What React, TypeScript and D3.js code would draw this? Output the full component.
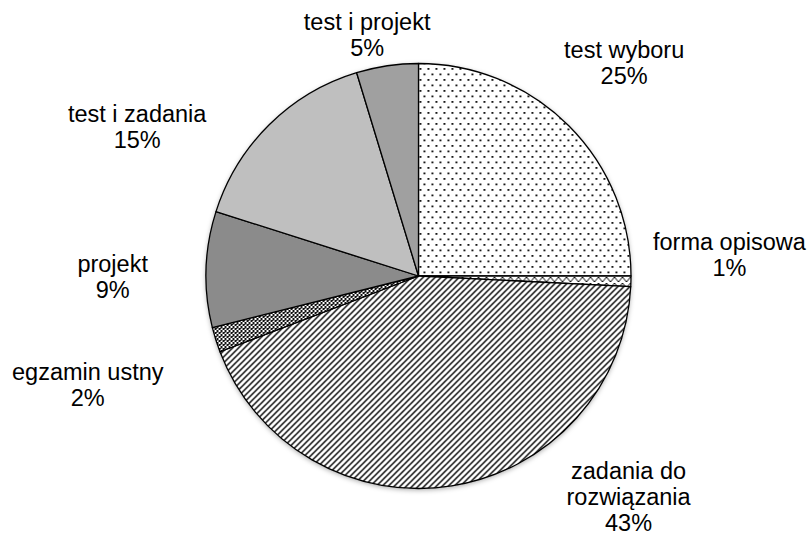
import React from "react";
import * as d3 from "d3";

// slice data, clockwise from 12 o'clock
const categories = [
    "test wyboru",
    "forma opisowa",
    "zadania do\nrozwiązania",
    "egzamin ustny",
    "projekt",
    "test i zadania",
    "test i projekt",
];
const values = [25.0, 0.8, 43.4, 1.9, 8.8, 15.4, 4.7];
const fills = ["url(#dots)", "url(#zigzag)", "url(#diag)", "url(#checker)", "#8b8b8b", "#bfbfbf", "#a0a0a0"];
// manual label nudges (like dragged labels in the original)
const labelNudge = [[2, -10], [23, -28], [165, -64], [-56, 22], [-18, 10], [-79, 56], [-9, 44]];

const W = 808;
const H = 535;
const cx = 418.5;
const cy = 276;
const r = 212.5;
const fontSize = 23.5;
const lineH = 26;

const App = () => {
    const total = d3.sum(values);
    const pie = d3.pie<number>().sort(null).value(d => d);
    const arcs = pie(values);
    const arc = d3.arc<d3.PieArcDatum<number>>().innerRadius(0).outerRadius(r);
    const labelArc = d3.arc<d3.PieArcDatum<number>>().innerRadius(288).outerRadius(288);

    return (
        <svg width={W} height={H} style={{position: "absolute", left: 0, top: 0}}
             fontFamily="'Liberation Sans', Arial, sans-serif">
            <defs>
                <pattern id="dots" width="8" height="11" patternUnits="userSpaceOnUse">
                    <rect width="8" height="11" fill="#fff"/>
                    <rect x="1" y="1" width="1.8" height="1.8" fill="#000"/>
                    <rect x="5" y="6.5" width="1.8" height="1.8" fill="#000"/>
                </pattern>
                <pattern id="diag" width="6" height="6" patternUnits="userSpaceOnUse">
                    <rect width="6" height="6" fill="#fff"/>
                    <path d="M-1,7 L7,-1 M-1,1 L1,-1 M5,7 L7,5" stroke="#000" strokeWidth="1.4"/>
                </pattern>
                <pattern id="checker" width="4" height="4" patternUnits="userSpaceOnUse">
                    <rect width="4" height="4" fill="#fff"/>
                    <rect x="0" y="0" width="2" height="2" fill="#111"/>
                    <rect x="2" y="2" width="2" height="2" fill="#111"/>
                    <rect x="2" y="0" width="1" height="1" fill="#333"/>
                </pattern>
                <pattern id="zigzag" width="8" height="6" patternUnits="userSpaceOnUse">
                    <rect width="8" height="6" fill="#fff"/>
                    <path d="M0,6 L4,1 L8,6" stroke="#000" strokeWidth="1" fill="none"/>
                </pattern>
                <filter id="shadow" x="-20%" y="-20%" width="140%" height="140%">
                    <feDropShadow dx="0" dy="1.5" stdDeviation="2.5" floodColor="#000" floodOpacity="0.35"/>
                </filter>
            </defs>
            <g transform={`translate(${cx},${cy})`}>
                <circle r={r} fill="#fff" filter="url(#shadow)"/>
                {arcs.map((a, i) => (
                    <path key={i} d={arc(a) || ""} fill={fills[i]} stroke="#000" strokeWidth={1.3}
                          strokeLinejoin="round"/>
                ))}
                {arcs.map((a, i) => {
                    const [lx, ly] = labelArc.centroid(a);
                    const x = lx + labelNudge[i][0];
                    const y = ly + labelNudge[i][1];
                    const lines = categories[i].split("\n");
                    lines.push(Math.round(values[i] / total * 100) + "%");
                    const y0 = y - (lines.length - 1) * lineH / 2 + fontSize * 0.35;
                    return (
                        <text key={"t" + i} textAnchor="middle" fontSize={fontSize} fill="#000">
                            {lines.map((s, j) => (
                                <tspan key={j} x={x} y={y0 + j * lineH}>{s}</tspan>
                            ))}
                        </text>
                    );
                })}
            </g>
        </svg>
    );
};

export default App;
